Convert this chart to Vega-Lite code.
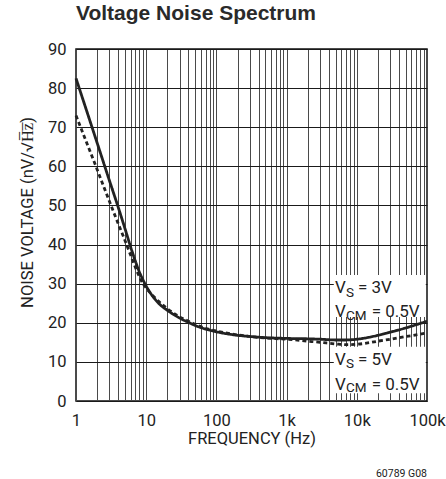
{
  "$schema": "https://vega.github.io/schema/vega-lite/v6.json",
  "width": 351,
  "height": 352,
  "autosize": {"type": "none"},
  "padding": {"left": 76, "top": 49, "right": 19, "bottom": 78},
  "background": "white",
  "config": {
    "view": {"stroke": "#111", "strokeWidth": 1.5},
    "font": "Roboto",
    "text": {"font": "Roboto", "color": "#222"}
  },
  "title": {
    "text": "Voltage Noise Spectrum",
    "anchor": "start",
    "frame": "group",
    "font": "Liberation Sans",
    "fontSize": 21,
    "fontWeight": "bold",
    "color": "#2a2a2a",
    "offset": 17
  },
  "datasets": {
    "curves": [
      {"f": 1, "v": 82.5, "series": "3V"},
      {"f": 2, "v": 66, "series": "3V"},
      {"f": 3, "v": 56.3, "series": "3V"},
      {"f": 4, "v": 49.5, "series": "3V"},
      {"f": 5, "v": 44, "series": "3V"},
      {"f": 6, "v": 39.4, "series": "3V"},
      {"f": 7, "v": 35.8, "series": "3V"},
      {"f": 8, "v": 33.0, "series": "3V"},
      {"f": 9, "v": 31.0, "series": "3V"},
      {"f": 10, "v": 29.4, "series": "3V"},
      {"f": 15, "v": 25.0, "series": "3V"},
      {"f": 20, "v": 23.2, "series": "3V"},
      {"f": 30, "v": 21.2, "series": "3V"},
      {"f": 40, "v": 20.1, "series": "3V"},
      {"f": 50, "v": 19.3, "series": "3V"},
      {"f": 70, "v": 18.4, "series": "3V"},
      {"f": 100, "v": 17.7, "series": "3V"},
      {"f": 200, "v": 16.8, "series": "3V"},
      {"f": 300, "v": 16.5, "series": "3V"},
      {"f": 500, "v": 16.2, "series": "3V"},
      {"f": 1000, "v": 16.0, "series": "3V"},
      {"f": 2000, "v": 15.9, "series": "3V"},
      {"f": 3000, "v": 15.8, "series": "3V"},
      {"f": 5000, "v": 15.6, "series": "3V"},
      {"f": 7000, "v": 15.6, "series": "3V"},
      {"f": 10000, "v": 15.8, "series": "3V"},
      {"f": 15000, "v": 16.3, "series": "3V"},
      {"f": 20000, "v": 16.8, "series": "3V"},
      {"f": 30000, "v": 17.6, "series": "3V"},
      {"f": 50000, "v": 18.7, "series": "3V"},
      {"f": 70000, "v": 19.5, "series": "3V"},
      {"f": 100000, "v": 20.4, "series": "3V"},
      {"f": 1, "v": 73, "series": "5V"},
      {"f": 2, "v": 59.2, "series": "5V"},
      {"f": 3, "v": 51, "series": "5V"},
      {"f": 4, "v": 45.3, "series": "5V"},
      {"f": 5, "v": 41, "series": "5V"},
      {"f": 6, "v": 37.3, "series": "5V"},
      {"f": 7, "v": 34.2, "series": "5V"},
      {"f": 8, "v": 31.8, "series": "5V"},
      {"f": 9, "v": 30.0, "series": "5V"},
      {"f": 10, "v": 28.9, "series": "5V"},
      {"f": 15, "v": 25.5, "series": "5V"},
      {"f": 20, "v": 23.6, "series": "5V"},
      {"f": 30, "v": 21.5, "series": "5V"},
      {"f": 40, "v": 20.4, "series": "5V"},
      {"f": 50, "v": 19.6, "series": "5V"},
      {"f": 70, "v": 18.6, "series": "5V"},
      {"f": 100, "v": 17.9, "series": "5V"},
      {"f": 200, "v": 16.9, "series": "5V"},
      {"f": 300, "v": 16.5, "series": "5V"},
      {"f": 500, "v": 16.1, "series": "5V"},
      {"f": 1000, "v": 15.8, "series": "5V"},
      {"f": 2000, "v": 15.3, "series": "5V"},
      {"f": 3000, "v": 15.0, "series": "5V"},
      {"f": 5000, "v": 14.6, "series": "5V"},
      {"f": 7000, "v": 14.4, "series": "5V"},
      {"f": 10000, "v": 14.5, "series": "5V"},
      {"f": 15000, "v": 14.9, "series": "5V"},
      {"f": 20000, "v": 15.3, "series": "5V"},
      {"f": 30000, "v": 15.8, "series": "5V"},
      {"f": 50000, "v": 16.5, "series": "5V"},
      {"f": 70000, "v": 16.9, "series": "5V"},
      {"f": 100000, "v": 17.4, "series": "5V"}
    ],
    "boxes": [
      {"f": 4700, "f2": 96000, "v": 21.5, "v2": 32.2},
      {"f": 4700, "f2": 96000, "v": 2.0, "v2": 13.9}
    ],
    "mainText": [
      {"f": 4890, "v": 27.6, "t": "V"},
      {"f": 10400, "v": 27.6, "t": "= 3V"},
      {"f": 4890, "v": 21.5, "t": "V"},
      {"f": 16300, "v": 21.5, "t": "= 0.5V"},
      {"f": 4890, "v": 9.2, "t": "V"},
      {"f": 10400, "v": 9.2, "t": "= 5V"},
      {"f": 4890, "v": 2.8, "t": "V"},
      {"f": 16300, "v": 2.8, "t": "= 0.5V"}
    ],
    "subText": [
      {"f": 7000, "v": 26.7, "t": "S"},
      {"f": 7000, "v": 20.7, "t": "CM"},
      {"f": 7000, "v": 8.4, "t": "S"},
      {"f": 7000, "v": 2.4, "t": "CM"}
    ],
    "note": [
      {"f": 100000, "v": -18.6, "t": "60789 G08"}
    ]
  },
  "encoding": {
    "x": {
      "field": "f", "type": "quantitative",
      "scale": {"type": "log", "domain": [1, 100000], "nice": false},
      "axis": {
        "title": "FREQUENCY (Hz)",
        "values": [1,2,3,4,5,6,7,8,9,10,20,30,40,50,60,70,80,90,100,200,300,400,500,600,700,800,900,1000,2000,3000,4000,5000,6000,7000,8000,9000,10000,20000,30000,40000,50000,60000,70000,80000,90000,100000],
        "labelExpr": "datum.value==1?'1':datum.value==10?'10':datum.value==100?'100':datum.value==1000?'1k':datum.value==10000?'10k':datum.value==100000?'100k':''",
        "labelOverlap": false,
        "labelFlush": false,
        "labelFont": "Roboto",
        "labelFontSize": 16.5,
        "labelColor": "#222",
        "labelPadding": 11,
        "ticks": false,
        "domain": false,
        "grid": true,
        "gridColor": "#4a4a4a",
        "gridWidth": 1,
        "gridOpacity": 1,
        "titleFont": "Roboto",
        "titleFontSize": 16.5,
        "titleFontWeight": "normal",
        "titleColor": "#222",
        "titleBaseline": "alphabetic",
        "titleY": 42
      }
    },
    "y": {
      "field": "v", "type": "quantitative",
      "scale": {"domain": [0, 90], "nice": false, "zero": false},
      "axis": {
        "title": "NOISE VOLTAGE (nV/√H̅z̅)",
        "values": [0, 10, 20, 30, 40, 50, 60, 70, 80, 90],
        "tickCount": 10,
        "labelOverlap": false,
        "labelFont": "Roboto",
        "labelFontSize": 16.5,
        "labelColor": "#222",
        "labelPadding": 10,
        "ticks": false,
        "domain": false,
        "grid": true,
        "gridColor": "#1a1a1a",
        "gridWidth": 1,
        "gridOpacity": 1,
        "titleFont": "Roboto",
        "titleFontSize": 16.5,
        "titleFontWeight": "normal",
        "titleColor": "#222",
        "titleAngle": -90,
        "titleX": -49,
        "titleY": 163,
        "titleAlign": "center",
        "titleBaseline": "middle"
      }
    }
  },
  "layer": [
    {
      "data": {"name": "boxes"},
      "mark": {"type": "rect", "fill": "white"},
      "encoding": {
        "x2": {"field": "f2"},
        "y2": {"field": "v2"}
      }
    },
    {
      "data": {"name": "curves"},
      "mark": {"type": "line", "interpolate": "monotone", "strokeWidth": 2.8, "color": "#222"},
      "encoding": {
        "detail": {"field": "series"},
        "strokeDash": {
          "field": "series", "type": "nominal",
          "scale": {"domain": ["3V", "5V"], "range": [[1, 0], [4, 3]]},
          "legend": null
        }
      }
    },
    {
      "data": {"name": "mainText"},
      "mark": {"type": "text", "align": "left", "baseline": "alphabetic", "fontSize": 17, "font": "Roboto", "color": "#222"},
      "encoding": {
        "text": {"field": "t"}
      }
    },
    {
      "data": {"name": "subText"},
      "mark": {"type": "text", "align": "left", "baseline": "alphabetic", "fontSize": 13.5, "font": "Roboto", "color": "#222"},
      "encoding": {
        "text": {"field": "t"}
      }
    },
    {
      "data": {"name": "note"},
      "mark": {"type": "text", "align": "right", "baseline": "middle", "fontSize": 10.5, "font": "Roboto", "color": "#222"},
      "encoding": {
        "text": {"field": "t"}
      }
    }
  ]
}
